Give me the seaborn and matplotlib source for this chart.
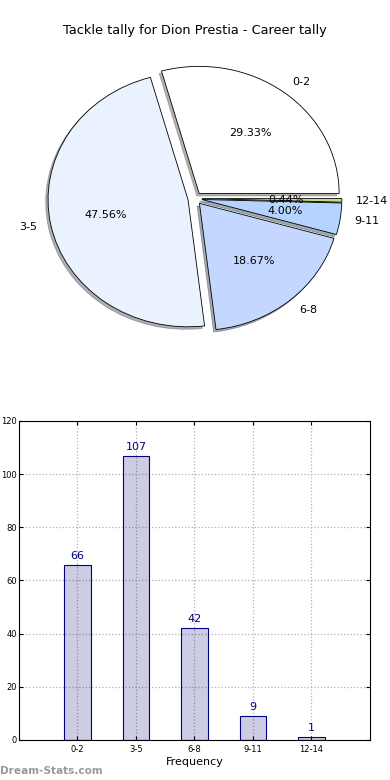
import matplotlib
matplotlib.use("Agg")
import matplotlib.pyplot as plt
import seaborn as sns
import pandas as pd

categories = ["0-2", "3-5", "6-8", "9-11", "12-14"]
counts = [66, 107, 42, 9, 1]
pie_colors = ["#ffffff", "#eaf1ff", "#c4d8ff", "#b4d4ff", "#c6df86"]
explode = [0.05, 0.05, 0.05, 0.05, 0.05]

fig = plt.figure(figsize=(3.9, 7.8), dpi=100)

# pie chart (top)
ax1 = fig.add_axes([0.069, 0.55, 0.8615, 0.391])
wedges, texts, autotexts = ax1.pie(
    counts,
    labels=categories,
    colors=pie_colors,
    explode=explode,
    autopct="%1.2f%%",
    shadow={"ox": -0.012, "oy": -0.014, "shade": 0.6},
    startangle=0,
    wedgeprops={"edgecolor": "black", "linewidth": 0.6},
    textprops={"fontsize": 8},
)
ax1.set_aspect("auto")
ax1.set_xlim(-1.2, 1.2)
ax1.set_ylim(-1.2, 1.2)
ax1.axis("off")

fig.text(0.5, 0.9615, "Tackle tally for Dion Prestia - Career tally",
         ha="center", va="center", fontsize=9.3)

# bar chart (bottom)
ax2 = fig.add_axes([0.0487, 0.0513, 0.9, 0.409])
df = pd.DataFrame({"bucket": categories, "count": counts})
sns.barplot(data=df, x="bucket", y="count", ax=ax2, width=0.45,
            color=(0, 0, 0.5, 0.2), edgecolor="navy", linewidth=0.8,
            saturation=1)
for p in ax2.patches:
    p.set_facecolor((0, 0, 0.5, 0.2))
for i, v in enumerate(counts):
    ax2.text(i, v + 1.5, str(v), ha="center", va="bottom",
             color="navy", fontsize=8)

ax2.set_xlim(-1, 5)
ax2.set_ylim(0, 120)
ax2.set_yticks(range(0, 121, 20))
ax2.grid(True, linestyle=":", color="#b0b0b0", linewidth=0.9)
ax2.set_axisbelow(True)
ax2.tick_params(direction="in", top=True, right=True, labelsize=6, length=3)
ax2.tick_params(axis="y", pad=1.5)
ax2.set_xlabel("Frequency", fontsize=8, labelpad=2)
ax2.set_ylabel("")
for s in ax2.spines.values():
    s.set_linewidth(0.8)

fig.text(0.0, 0.012, "Dream-Stats.com", color="#999999", fontsize=7.6,
         fontweight="bold", ha="left", va="center")

plt.savefig("out.png", dpi=100)
plt.close()
